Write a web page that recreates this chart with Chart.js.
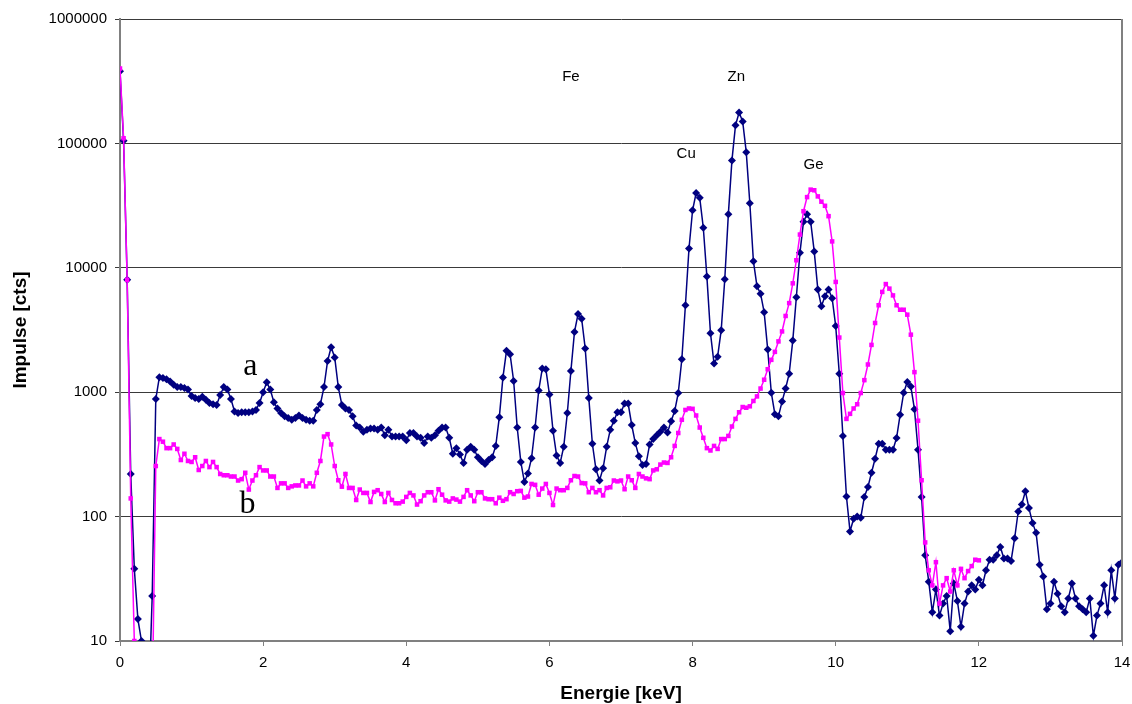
<!DOCTYPE html>
<html>
<head>
<meta charset="utf-8">
<script src="https://cdn.jsdelivr.net/npm/chart.js@4/dist/chart.umd.min.js"></script>
<style>
  html, body { margin: 0; padding: 0; background: #fff; }
  canvas { display: block; }
</style>
</head>
<body>
<canvas id="spektrum" width="1132" height="704"></canvas>
<script>
// Kanalenergien [keV]
const energien = [
  0,0.05,0.1,0.15,0.2,0.25,0.3,0.35,0.4,0.45,0.5,0.55,0.6,0.65,0.7,0.75,0.8,0.85,0.9,0.95,
  1,1.05,1.1,1.15,1.2,1.25,1.3,1.35,1.4,1.45,1.5,1.55,1.6,1.65,1.7,1.75,1.8,1.85,1.9,1.95,
  2,2.05,2.1,2.15,2.2,2.25,2.3,2.35,2.4,2.45,2.5,2.55,2.6,2.65,2.7,2.75,2.8,2.85,2.9,2.95,
  3,3.05,3.1,3.15,3.2,3.25,3.3,3.35,3.4,3.45,3.5,3.55,3.6,3.65,3.7,3.75,3.8,3.85,3.9,3.95,
  4,4.05,4.1,4.15,4.2,4.25,4.3,4.35,4.4,4.45,4.5,4.55,4.6,4.65,4.7,4.75,4.8,4.85,4.9,4.95,
  5,5.05,5.1,5.15,5.2,5.25,5.3,5.35,5.4,5.45,5.5,5.55,5.6,5.65,5.7,5.75,5.8,5.85,5.9,5.95,
  6,6.05,6.1,6.15,6.2,6.25,6.3,6.35,6.4,6.45,6.5,6.55,6.6,6.65,6.7,6.75,6.8,6.85,6.9,6.95,
  7,7.05,7.1,7.15,7.2,7.25,7.3,7.35,7.4,7.45,7.5,7.55,7.6,7.65,7.7,7.75,7.8,7.85,7.9,7.95,
  8,8.05,8.1,8.15,8.2,8.25,8.3,8.35,8.4,8.45,8.5,8.55,8.6,8.65,8.7,8.75,8.8,8.85,8.9,8.95,
  9,9.05,9.1,9.15,9.2,9.25,9.3,9.35,9.4,9.45,9.5,9.55,9.6,9.65,9.7,9.75,9.8,9.85,9.9,9.95,
  10,10.05,10.1,10.15,10.2,10.25,10.3,10.35,10.4,10.45,10.5,10.55,10.6,10.65,10.7,10.75,10.8,10.85,10.9,10.95,
  11,11.05,11.1,11.15,11.2,11.25,11.3,11.35,11.4,11.45,11.5,11.55,11.6,11.65,11.7,11.75,11.8,11.85,11.9,11.95,
  12,12.05,12.1,12.15,12.2,12.25,12.3,12.35,12.4,12.45,12.5,12.55,12.6,12.65,12.7,12.75,12.8,12.85,12.9,12.95,
  13,13.05,13.1,13.15,13.2,13.25,13.3,13.35,13.4,13.45,13.5,13.55,13.6,13.65,13.7,13.75,13.8,13.85,13.9,13.95,
  14,14.05
];

// Spektrum a (dunkelblau)
const impulseA = [
  380000,105000,8000,220,38,15,10,3,3,23,880,1320,1300,1270,1220,1150,1100,1100,1080,1050,
  930,900,880,920,870,820,800,790,950,1100,1050,880,700,680,690,690,690,700,720,820,
  1000,1200,1050,830,740,680,640,620,600,620,650,620,600,590,590,720,800,1100,1780,2300,
  1900,1100,790,740,720,640,540,520,480,500,510,510,500,520,450,500,440,440,440,440,
  410,470,470,440,430,390,440,430,450,490,520,520,430,320,355,315,270,345,365,345,
  300,280,265,285,300,370,630,1310,2150,2020,1230,520,275,190,222,295,520,1030,1550,1530,
  960,490,310,270,365,680,1480,3050,4250,3900,2250,900,385,240,195,245,365,500,590,690,
  690,810,810,545,390,305,260,265,380,420,450,480,520,475,585,705,985,1840,5000,14300,
  29000,40000,36500,21000,8500,2980,1700,1930,3150,8100,27000,73000,140000,177000,150000,85000,33000,11300,7100,6200,
  4400,2200,990,665,640,840,1070,1410,2600,5800,13200,23500,27000,23500,13500,6700,4900,5900,6700,5700,
  3400,1410,445,145,76,96,100,98,144,173,225,292,385,385,345,345,345,428,660,990,
  1210,1110,730,345,144,49,30,17,26,16,20,23,12,29,21,13,20,25,28,26,
  31,28,37,45,45,49,57,46,46,44,67,110,125,160,117,89,74,41,33,18,
  20,30,24,19,17,22,29,22,19,18,17,22,11,16,20,28,17,37,22,41,
  43,30
];

// Spektrum b (magenta)
const impulseB = [
  400000,110000,8000,140,10,3,3,3,3,3,255,420,400,355,355,380,350,285,320,280,
  275,300,237,255,280,250,275,250,220,215,215,210,210,195,200,225,165,195,215,250,
  235,235,210,210,170,185,185,170,175,178,178,195,175,185,175,225,280,440,460,380,
  255,196,174,220,170,170,136,165,155,155,131,158,163,152,131,155,136,128,128,132,
  144,155,148,125,133,148,157,157,135,166,150,135,132,140,137,132,144,163,148,133,
  157,157,140,138,138,128,142,134,138,157,152,160,161,142,145,183,180,150,168,183,
  155,124,168,163,163,170,196,212,210,186,185,157,170,157,163,148,170,172,195,192,
  195,166,210,196,170,220,210,203,200,235,240,262,272,270,300,370,470,600,720,740,
  735,650,520,430,355,340,370,350,420,420,445,530,610,690,760,750,770,850,925,1070,
  1260,1530,1820,2110,2560,3080,4100,5200,7500,11500,18500,28500,37000,42500,42000,37500,34000,31500,26000,16300,
  7700,2750,985,610,670,740,800,985,1250,1670,2400,3600,5000,6400,7400,6800,6000,5000,4600,4600,
  4200,2900,1450,590,196,62,37,28,43,20,28,32,25,37,28,38,32,36.5,40,45,
  44.5
];

const xTicks = [0, 2, 4, 6, 8, 10, 12, 14];
const yTicks = [10, 100, 1000, 10000, 100000, 1000000];

// Beschriftungen im Diagramm
const peakNamen = ['Fe', 'Zn', 'Cu', 'Ge'];
const peakX = [6.3, 8.61, 7.91, 9.69];
const peakY = [340000, 340000, 82000, 67000];
const kurvenNamen = ['a', 'b'];
const kurvenX = [1.82, 1.78];
const kurvenY = [1600, 124];

const schrift = "'Liberation Sans', Arial, sans-serif";

const beschriftungPlugin = {
    id: 'beschriftung',
    afterDatasetsDraw(chart) {
        const { ctx, chartArea, scales } = chart;
        ctx.save();
        // rechter Rand der Zeichenfläche
        ctx.strokeStyle = '#808080';
        ctx.lineWidth = 2;
        ctx.beginPath();
        ctx.moveTo(chartArea.right, chartArea.top);
        ctx.lineTo(chartArea.right, chartArea.bottom);
        ctx.stroke();

        ctx.fillStyle = '#000';
        ctx.textAlign = 'center';
        ctx.textBaseline = 'middle';
        ctx.font = "15px " + schrift;
        peakNamen.forEach((t, i) => {
            ctx.fillText(t, scales.x.getPixelForValue(peakX[i]), scales.y.getPixelForValue(peakY[i]));
        });
        ctx.font = "32px 'Liberation Serif', 'Times New Roman', serif";
        kurvenNamen.forEach((t, i) => {
            ctx.fillText(t, scales.x.getPixelForValue(kurvenX[i]), scales.y.getPixelForValue(kurvenY[i]));
        });
        ctx.restore();
    }
};

const punkteA = impulseA.map((v, i) => ({ x: energien[i], y: v }));
const punkteB = impulseB.map((v, i) => ({ x: energien[i], y: v }));

Chart.defaults.font.family = schrift;
Chart.defaults.color = '#000';

new Chart(document.getElementById('spektrum'), {
    type: 'line',
    data: {
        datasets: [
            {
                label: 'b',
                data: punkteB,
                borderColor: '#ff00ff',
                backgroundColor: '#ff00ff',
                borderWidth: 1.5,
                pointStyle: 'rect',
                pointRadius: 3.2,
                pointBorderWidth: 0,
                order: 0
            },
            {
                label: 'a',
                data: punkteA,
                borderColor: '#000080',
                backgroundColor: '#000080',
                borderWidth: 1.5,
                pointStyle: 'rectRot',
                pointRadius: 4,
                pointBorderWidth: 0,
                order: 1
            }
        ]
    },
    options: {
        responsive: false,
        animation: false,
        devicePixelRatio: 1,
        layout: { padding: { left: 0, right: 10, top: 19, bottom: 0 } },
        elements: { line: { tension: 0 } },
        plugins: {
            legend: { display: false },
            tooltip: { enabled: false }
        },
        scales: {
            x: {
                type: 'linear',
                min: 0,
                max: 14,
                afterBuildTicks: (s) => { s.ticks = xTicks.map(v => ({ value: v })); },
                afterFit: (s) => { s.height = 63; s.paddingLeft = 0; s.paddingRight = 0; },
                ticks: { font: { size: 15 }, padding: 8, maxRotation: 0 },
                grid: { drawOnChartArea: false, drawTicks: true, tickLength: 5, color: '#808080' },
                border: { color: '#808080', width: 2 },
                title: {
                    display: true,
                    text: 'Energie [keV]',
                    font: { size: 19, weight: 'bold', lineHeight: 1 },
                    padding: { top: 0, bottom: 1 }
                }
            },
            y: {
                type: 'logarithmic',
                min: 10,
                max: 1000000,
                afterBuildTicks: (s) => { s.ticks = yTicks.map(v => ({ value: v })); },
                afterFit: (s) => { s.width = 120; },
                ticks: { font: { size: 15 }, padding: 8, callback: (v) => String(v) },
                grid: { color: '#3a3a3a', lineWidth: 1, drawTicks: true, tickLength: 5 },
                border: { color: '#808080', width: 2 },
                title: {
                    display: true,
                    text: 'Impulse [cts]',
                    font: { size: 19, weight: 'bold', lineHeight: 1 },
                    padding: { top: 11, bottom: 0 }
                }
            }
        }
    },
    plugins: [beschriftungPlugin]
});
</script>
</body>
</html>
